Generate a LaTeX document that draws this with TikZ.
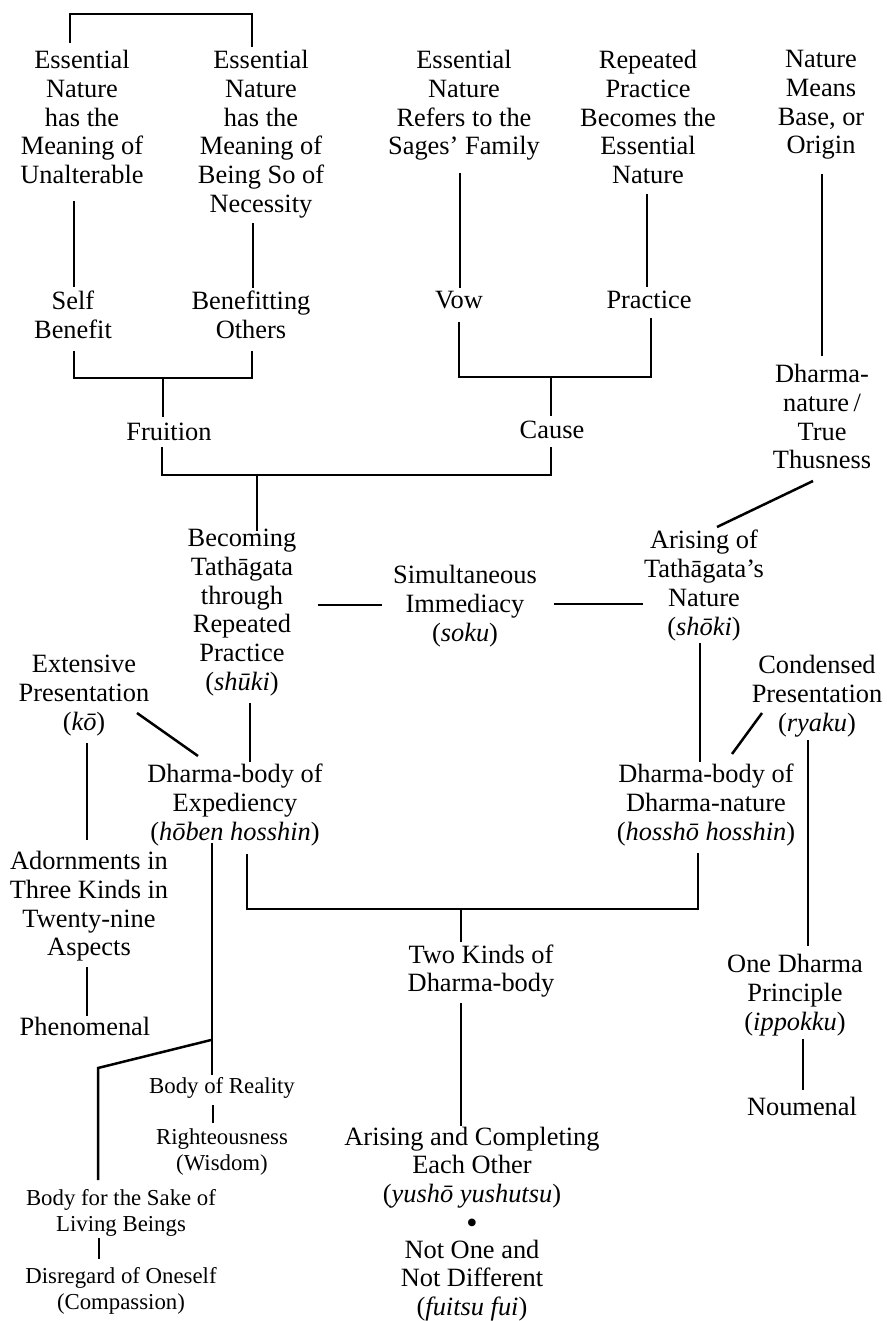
\documentclass[tikz,border=0pt]{standalone}
\usepackage{fontspec}
\setmainfont{Liberation Serif}
\begin{document}
\begin{tikzpicture}[x=0.5pt,y=-0.5pt]
\tikzset{
 lbl/.style={align=center, inner sep=0pt, anchor=north, font=\fontsize{13.2}{14.35}\selectfont},
 sml/.style={align=center, inner sep=0pt, anchor=north, font=\fontsize{11.4}{13}\selectfont},
 conn/.style={line width=1.25pt, line cap=butt, line join=miter}
}
\useasboundingbox (0,0) rectangle (887,1321);
% ---- nodes (y = first baseline - ascent)
\node[lbl] (en1) at (82,50) {Essential\\Nature\\has the\\Meaning of\\Unalterable};
\node[lbl] (en2) at (261,50) {Essential\\Nature\\has the\\Meaning of\\Being So of\\Necessity};
\node[lbl] (en3) at (464,50) {Essential\\Nature\\Refers to the\\Sages’ Family};
\node[lbl] (en4) at (648,50) {Repeated\\Practice\\Becomes the\\Essential\\Nature};
\node[lbl] (en5) at (821,50) {Nature\\Means\\Base, or\\Origin};
\node[lbl] (self) at (73,291) {Self\\Benefit};
\node[lbl] (benef) at (251,291) {Benefitting\\Others};
\node[lbl] (vow) at (459,291) {Vow};
\node[lbl] (practice) at (649,291) {Practice};
\node[lbl] (dnat) at (822,364) {Dharma-\\nature\,/\\True\\Thusness};
\node[lbl] (fruition) at (169,423) {Fruition};
\node[lbl] (cause) at (552,421) {Cause};
\node[lbl] (becoming) at (242,529) {Becoming\\Tathāgata\\through\\Repeated\\Practice\\(\textit{shūki})};
\node[lbl] (simult) at (465,565) {Simultaneous\\Immediacy\\(\textit{soku})};
\node[lbl] (arising) at (704,530) {Arising of\\Tathāgata’s\\Nature\\(\textit{shōki})};
\node[lbl] (extensive) at (84,655) {Extensive\\Presentation\\(\textit{kō})};
\node[lbl] (condensed) at (817,655) {Condensed\\Presentation\\(\textit{ryaku})};
\node[lbl] (hoben) at (235,764) {Dharma-body of\\Expediency\\(\textit{hōben hosshin})};
\node[lbl] (hossho) at (706,764) {Dharma-body of\\Dharma-nature\\(\textit{hosshō hosshin})};
\node[lbl] (adorn) at (89,851) {Adornments in\\Three Kinds in\\Twenty-nine\\Aspects};
\node[lbl] (twokinds) at (481,944) {Two Kinds of\\Dharma-body};
\node[lbl] (onedharma) at (795,954) {One Dharma\\Principle\\(\textit{ippokku})};
\node[lbl] (phenom) at (85,1017) {Phenomenal};
\node[lbl] (noumenal) at (802,1097) {Noumenal};
\node[sml] (bodyreal) at (222,1077) {Body of Reality};
\node[sml] (righteous) at (222,1128) {Righteousness\\(Wisdom)};
\node[sml] (bodysake) at (121,1189) {Body for the Sake of\\Living Beings};
\node[sml] (disregard) at (121,1267) {Disregard of Oneself\\(Compassion)};
\node[lbl, font=\fontsize{13.2}{14.1}\selectfont] (arisecomp) at (472,1127) {Arising and Completing\\Each Other\\(\textit{yushō yushutsu})};
\node[inner sep=0pt, font=\fontsize{16}{16}\selectfont] (dot) at (472,1226) {•};
\node[lbl, font=\fontsize{13.2}{14.1}\selectfont] (notone) at (472,1240) {Not One and\\Not Different\\(\textit{fuitsu fui})};
% ---- connector end points
\coordinate (topL) at (70,43);  \coordinate (topLc) at (70,14);
\coordinate (topR) at (252,47); \coordinate (topRc) at (252,14);
\coordinate (en1b) at (74,201); \coordinate (selft) at (74,287);
\coordinate (en2b) at (253,223); \coordinate (beneft) at (253,288);
\coordinate (selfb) at (74,351); \coordinate (benefb) at (252,351);
\coordinate (fruJ) at (163,378); \coordinate (frut) at (163,417);
\coordinate (frub) at (162,447); \coordinate (causeb) at (551,447);
\coordinate (becJ) at (257,475); \coordinate (bect) at (257,531);
\coordinate (en3b) at (460,173); \coordinate (vowt) at (460,288);
\coordinate (en4b) at (647,194); \coordinate (practt) at (647,287);
\coordinate (vowb) at (459,322); \coordinate (practb) at (651,318);
\coordinate (causeJ) at (551,377); \coordinate (causet) at (551,416);
\coordinate (en5b) at (822,174); \coordinate (dnatt) at (822,356);
\coordinate (dnatb) at (813,481); \coordinate (arist) at (717,527);
\coordinate (becr) at (318,605); \coordinate (siml) at (382,605);
\coordinate (simr) at (554,604); \coordinate (arisl) at (643,604);
\coordinate (becb) at (250,703); \coordinate (hobent) at (250,762);
\coordinate (extr) at (137,713); \coordinate (hobentl) at (198,756);
\coordinate (extb) at (87,743); \coordinate (adornt) at (87,840);
\coordinate (adornb) at (87,967); \coordinate (phenomt) at (87,1016);
\coordinate (hobenb) at (212,843); \coordinate (realt) at (212,1075);
\coordinate (brJ) at (211,1040); \coordinate (brK) at (98,1068); \coordinate (saket) at (98,1180);
\coordinate (realb) at (213,1105); \coordinate (rightt) at (213,1123);
\coordinate (sakeb) at (99,1238); \coordinate (disrt) at (99,1259);
\coordinate (hobenb2) at (247,854); \coordinate (hosshob) at (698,853);
\coordinate (twoJ) at (461,909); \coordinate (twot) at (461,942);
\coordinate (twob) at (461,1003); \coordinate (arcompt) at (461,1126);
\coordinate (arisb) at (700,643); \coordinate (hosshot) at (700,762);
\coordinate (condl) at (762,713); \coordinate (hosshotr) at (732,754);
\coordinate (condb) at (808,740); \coordinate (onet) at (808,946);
\coordinate (oneb) at (803,1039); \coordinate (noumt) at (803,1090);
% ---- connectors
\draw[conn] (topL) -- (topLc) -- (topRc) -- (topR);
\draw[conn] (en1b) -- (selft);
\draw[conn] (en2b) -- (beneft);
\draw[conn] (selfb) |- (fruJ) -| (benefb);
\draw[conn] (fruJ) -- (frut);
\draw[conn] (frub) |- (becJ) -| (causeb);
\draw[conn] (becJ) -- (bect);
\draw[conn] (en3b) -- (vowt);
\draw[conn] (en4b) -- (practt);
\draw[conn] (vowb) |- (causeJ) -| (practb);
\draw[conn] (causeJ) -- (causet);
\draw[conn] (en5b) -- (dnatt);
\draw[conn] (dnatb) -- (arist);
\draw[conn] (becr) -- (siml);
\draw[conn] (simr) -- (arisl);
\draw[conn] (becb) -- (hobent);
\draw[conn] (extr) -- (hobentl);
\draw[conn] (extb) -- (adornt);
\draw[conn] (adornb) -- (phenomt);
\draw[conn] (hobenb) -- (realt);
\draw[conn] (brJ) -- (brK) -- (saket);
\draw[conn] (realb) -- (rightt);
\draw[conn] (sakeb) -- (disrt);
\draw[conn] (hobenb2) |- (twoJ) -| (hosshob);
\draw[conn] (twoJ) -- (twot);
\draw[conn] (twob) -- (arcompt);
\draw[conn] (arisb) -- (hosshot);
\draw[conn] (condl) -- (hosshotr);
\draw[conn] (condb) -- (onet);
\draw[conn] (oneb) -- (noumt);
\end{tikzpicture}
\end{document}
